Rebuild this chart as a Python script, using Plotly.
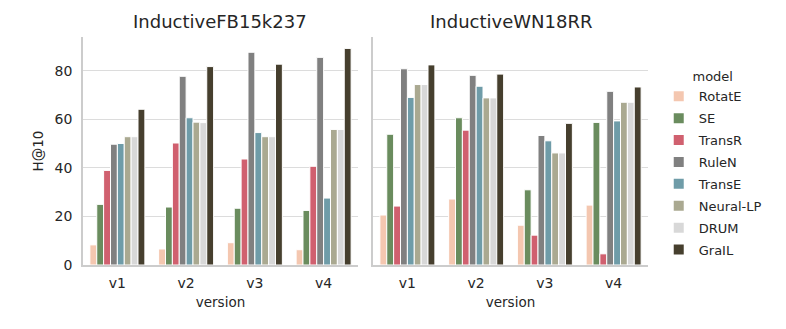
import plotly.graph_objects as go
from plotly.subplots import make_subplots

versions = ["v1", "v2", "v3", "v4"]
models = ["RotatE", "SE", "TransR", "RuleN", "TransE", "Neural-LP", "DRUM", "GraIL"]
colours = ["#f4c7b0", "#6a8c5e", "#d0606f", "#808080", "#6f9ca8", "#aaa991", "#d8d8d8", "#463f2e"]

# H@10 per model, values for v1..v4
fb_values = {
    "RotatE": [8.3, 6.6, 9.2, 6.3],
    "SE": [25.0, 23.9, 23.4, 22.5],
    "TransR": [39.0, 50.3, 43.7, 40.7],
    "RuleN": [49.8, 77.8, 87.7, 85.6],
    "TransE": [50.1, 60.7, 54.6, 27.6],
    "Neural-LP": [52.9, 58.9, 52.9, 55.9],
    "DRUM": [52.9, 58.7, 52.9, 55.9],
    "GraIL": [64.2, 81.8, 82.8, 89.3],
}
wn_values = {
    "RotatE": [20.6, 27.2, 16.4, 24.7],
    "SE": [53.9, 60.7, 31.0, 58.8],
    "TransR": [24.3, 55.6, 12.3, 4.6],
    "RuleN": [80.9, 78.2, 53.4, 71.6],
    "TransE": [69.1, 73.7, 51.2, 59.4],
    "Neural-LP": [74.4, 68.9, 46.2, 67.1],
    "DRUM": [74.4, 68.9, 46.2, 67.1],
    "GraIL": [82.5, 78.7, 58.4, 73.4],
}

text_col = "#262626"
axis_col = "#cccccc"

fig = make_subplots(
    rows=1, cols=2, shared_yaxes=True, horizontal_spacing=0.0266,
    subplot_titles=["InductiveFB15k237", "InductiveWN18RR"]
)

for col, data in [(1, fb_values), (2, wn_values)]:
    for model, colour in zip(models, colours):
        fig.add_trace(
            go.Bar(
                x=versions, y=data[model], name=model,
                marker=dict(color=colour, line=dict(color="white", width=1)),
                showlegend=(col == 1), legendgroup=model
            ),
            row=1, col=col
        )

# page body adds an 8px margin, so the figure is sized to fit inside it
fig.update_layout(
    width=770, height=313,
    margin=dict(l=75, r=130, t=29, b=56, autoexpand=False),
    barmode="group", bargap=0.2, bargroupgap=0,
    paper_bgcolor="white", plot_bgcolor="white",
    font=dict(family="DejaVu Sans", size=13, color=text_col),
    legend=dict(
        title=dict(text="model", side="top center", font=dict(size=13)),
        x=1.019, xanchor="left", y=0.439, yanchor="middle",
        font=dict(size=13), tracegroupgap=2, itemsizing="constant",
        bgcolor="rgba(0,0,0,0)"
    )
)

for ann in fig.layout.annotations:
    ann.font = dict(size=18, color=text_col)
    ann.y = 1.0
    ann.yshift = 3

fig.update_xaxes(
    showline=True, linecolor=axis_col, linewidth=1.5,
    ticks="", tickfont=dict(size=14), automargin=False, ticklabelstandoff=4,
    title=dict(text="version", font=dict(size=13.5), standoff=8)
)
fig.update_yaxes(
    range=[0, 94], tickvals=[0, 20, 40, 60, 80],
    showgrid=True, gridcolor="#dcdcdc", gridwidth=1,
    showline=True, linecolor=axis_col, linewidth=1.5,
    zeroline=False, ticks="", tickfont=dict(size=14), automargin=False,
    ticklabelstandoff=6
)
fig.update_yaxes(title=dict(text="H@10", font=dict(size=13.5), standoff=8), row=1, col=1)
fig.update_yaxes(showticklabels=False, row=1, col=2)

fig.write_html("out.html")
